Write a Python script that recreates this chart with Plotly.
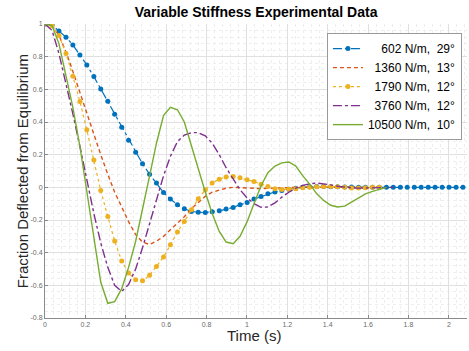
import plotly.graph_objects as go

time_s = [0.000, 0.035, 0.069, 0.104, 0.138, 0.173, 0.207, 0.242, 0.276, 0.311,
          0.345, 0.380, 0.414, 0.449, 0.483, 0.518, 0.552, 0.587, 0.621, 0.656,
          0.690, 0.725, 0.759, 0.794, 0.828, 0.863, 0.897, 0.932, 0.966, 1.001,
          1.035, 1.070, 1.104, 1.139, 1.173, 1.208, 1.242, 1.277, 1.311, 1.346,
          1.380, 1.415, 1.449, 1.484, 1.518, 1.553, 1.587, 1.622, 1.656, 1.691,
          1.725, 1.760, 1.794, 1.829, 1.863, 1.898, 1.932, 1.967, 2.001, 2.036,
          2.070]

k602 = [1.0, 0.994, 0.957, 0.919, 0.872, 0.810, 0.749, 0.678, 0.602, 0.527,
        0.448, 0.368, 0.289, 0.215, 0.144, 0.080, 0.026, -0.032, -0.072, -0.107,
        -0.131, -0.148, -0.152, -0.154, -0.150, -0.144, -0.133, -0.123, -0.107, -0.093,
        -0.072, -0.056, -0.040, -0.028, -0.019, -0.011, -0.005, 0.0, 0.003, 0.005,
        0.005, 0.004, 0.003, 0.002, 0.002, 0.001, 0.0, 0.0, 0.001, 0.0,
        0.0, 0.0, 0.0, 0.001, 0.0, 0.0, 0.0, 0.0, 0.0, 0.0,
        0.0]

k1360 = [1.0, 0.99, 0.93, 0.83, 0.71, 0.58, 0.45, 0.32, 0.20, 0.08,
         -0.03, -0.12, -0.21, -0.29, -0.335, -0.35, -0.33, -0.30, -0.26, -0.22,
         -0.18, -0.13, -0.09, -0.055, -0.03, -0.015, -0.005, 0.0, -0.003, -0.006,
         -0.008, -0.008, -0.006, -0.004, -0.002, 0.0, 0.001, 0.002, 0.002, 0.001,
         0.0, 0.0, -0.001, -0.001, 0.0, 0.0, 0.0, 0.0, 0.0]

k1790 = [1.0, 0.99, 0.93, 0.82, 0.68, 0.525, 0.352, 0.168, -0.02, -0.178,
         -0.329, -0.451, -0.525, -0.566, -0.572, -0.539, -0.484, -0.427, -0.352, -0.274,
         -0.209, -0.138, -0.070, -0.015, 0.026, 0.050, 0.064, 0.066, 0.058, 0.046,
         0.035, 0.019, 0.005, -0.008, -0.013, -0.012, -0.008, -0.003, 0.0, 0.003,
         0.005, 0.005, 0.004, 0.0, -0.004, -0.004, -0.002, 0.0, 0.0]

k3760 = [1.0, 0.96, 0.82, 0.64, 0.45, 0.25, 0.04, -0.16, -0.34, -0.49,
         -0.60, -0.637, -0.595, -0.50, -0.37, -0.22, -0.07, 0.07, 0.19, 0.28,
         0.32, 0.335, 0.335, 0.315, 0.27, 0.20, 0.12, 0.05, -0.015, -0.065,
         -0.10, -0.122, -0.12, -0.095, -0.06, -0.03, -0.005, 0.012, 0.022, 0.026,
         0.022, 0.015, 0.007, 0.0, -0.004, -0.005, -0.004, -0.002, 0.0, 0.0,
         0.0]

k10500 = [1.0, 0.99, 0.88, 0.69, 0.49, 0.25, -0.02, -0.32, -0.58, -0.71,
          -0.70, -0.62, -0.49, -0.33, -0.14, 0.07, 0.27, 0.44, 0.49, 0.475,
          0.40, 0.25, 0.11, -0.03, -0.16, -0.27, -0.335, -0.345, -0.30, -0.21,
          -0.10, 0.01, 0.09, 0.13, 0.15, 0.155, 0.13, 0.07, 0.02, -0.04,
          -0.08, -0.11, -0.12, -0.115, -0.09, -0.065, -0.04, -0.025, -0.012, 0.0]

fs = "\u2007"
names = [fs * 2 + "602 N/m,  29°", fs + "1360 N/m,  13°", fs + "1790 N/m,  12°",
         fs + "3760 N/m,  12°", "10500 N/m,  10°"]

x_ticks = [0, 0.2, 0.4, 0.6, 0.8, 1.0, 1.2, 1.4, 1.6, 1.8, 2.0]
x_tick_text = ["0", "0.2", "0.4", "0.6", "0.8", "1", "1.2", "1.4", "1.6", "1.8", "2"]
y_ticks = [-0.8, -0.6, -0.4, -0.2, 0, 0.2, 0.4, 0.6, 0.8, 1.0]
y_tick_text = ["-0.8", "-0.6", "-0.4", "-0.2", "0", "0.2", "0.4", "0.6", "0.8", "1"]

FONT = "Liberation Sans, Arial"

fig = go.Figure()
fig.add_trace(go.Scatter(x=time_s[:len(k602)], y=k602, name=names[0], mode="lines+markers",
                         line=dict(color="#0072BD", width=1.2, dash="dashdot"),
                         marker=dict(size=5, color="#0072BD")))
fig.add_trace(go.Scatter(x=time_s[:len(k1360)], y=k1360, name=names[1], mode="lines",
                         line=dict(color="#D95319", width=1.4, dash="4px,3px")))
fig.add_trace(go.Scatter(x=time_s[:len(k1790)], y=k1790, name=names[2], mode="lines+markers",
                         line=dict(color="#EDB120", width=1.2, dash="dot"),
                         marker=dict(size=5, color="#EDB120")))
fig.add_trace(go.Scatter(x=time_s[:len(k3760)], y=k3760, name=names[3], mode="lines",
                         line=dict(color="#7E2F8E", width=1.4, dash="dashdot")))
fig.add_trace(go.Scatter(x=time_s[:len(k10500)], y=k10500, name=names[4], mode="lines",
                         line=dict(color="#77AC30", width=1.4)))

axis_common = dict(
    showline=True, linecolor="#8a8a8a", linewidth=1, mirror=False,
    showgrid=True, gridcolor="#e0e0e0", gridwidth=1, zeroline=False,
    ticks="inside", ticklen=3, tickcolor="#8a8a8a", automargin=False,
    tickfont=dict(family=FONT, size=7, color="#6a6a6a"),
    minor=dict(dtick=0.04, showgrid=True, gridcolor="#eeeeee", griddash="dot", gridwidth=1),
)

fig.update_layout(
    width=469, height=351,
    margin=dict(l=45, r=2, t=24, b=33),
    paper_bgcolor="white", plot_bgcolor="white",
    title=dict(text="<b>Variable Stiffness Experimental Data</b>", x=0.546, xanchor="center",
               y=0.966, yanchor="middle", automargin=False,
               font=dict(family=FONT, size=14, color="#000000")),
    xaxis=dict(range=[0, 2.09], tickvals=x_ticks, ticktext=x_tick_text, **axis_common),
    yaxis=dict(range=[-0.8, 1.0], tickvals=y_ticks, ticktext=y_tick_text, **axis_common),
    legend=dict(x=0.988, xanchor="right", y=0.969, yanchor="top",
                bgcolor="white", bordercolor="#9a9a9a", borderwidth=1,
                font=dict(family=FONT, size=12, color="#000000"),
                tracegroupgap=0, itemwidth=30),
    showlegend=True,
    annotations=[
        dict(text="Time (s)", xref="paper", yref="paper", x=0.495, y=-0.058,
             xanchor="center", yanchor="middle", showarrow=False,
             font=dict(family=FONT, size=15, color="#262626")),
        dict(text="Fraction Deflected from Equilibrium", xref="paper", yref="paper",
             x=-0.054, y=0.5, xanchor="center", yanchor="middle", textangle=-90,
             showarrow=False, font=dict(family=FONT, size=15, color="#262626")),
    ],
)

fig.write_html("out.html", config={"displayModeBar": False},
               post_script="document.body.style.margin='0';document.body.style.padding='0';")
